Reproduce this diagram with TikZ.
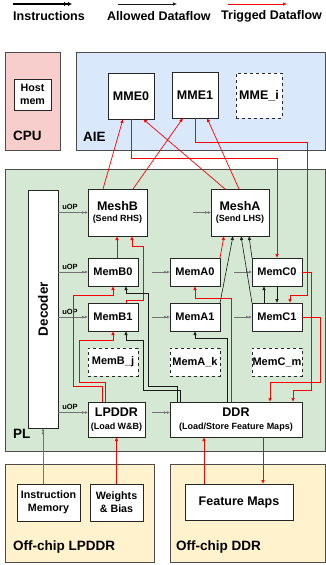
\documentclass[tikz,border=0pt]{standalone}
\usepackage{fontspec}
\setmainfont{Liberation Sans}
\usetikzlibrary{arrows.meta}

\definecolor{cpuFill}{HTML}{F8CECC}
\definecolor{aieFill}{HTML}{DAE8FC}
\definecolor{plFill}{HTML}{D5E8D4}
\definecolor{offFill}{HTML}{FFF2CC}

\newcommand{\regfnt}{\fontsize{13.5}{15}\selectfont\bfseries}
\newcommand{\unitfnt}{\fontsize{12.5}{13.5}\selectfont\bfseries}
\newcommand{\memfnt}{\fontsize{11}{13}\selectfont\bfseries}
\newcommand{\boxfnt}{\fontsize{10.7}{13}\selectfont\bfseries}
\newcommand{\subtfnt}{\fontsize{9}{11}\selectfont\bfseries}
\newcommand{\uopfnt}{\fontsize{7.5}{9}\selectfont\bfseries}

\begin{document}
\begin{tikzpicture}[x=1pt,y=-1pt,
    region/.style={draw=black!70,line width=0.8pt,inner sep=0pt,outer sep=0pt,anchor=north west},
    regtext/.style={font=\regfnt,inner sep=0pt,anchor=west},
    unit/.style={draw=black!85,fill=white,line width=0.8pt,inner sep=0pt,outer sep=0pt,
      anchor=north west,align=center,font=\unitfnt},
    mem/.style={unit,minimum width=50,minimum height=28,font=\memfnt},
    ghost/.style={mem,dashed},
    uop/.style={draw=black!55,line width=0.6pt,
      -{Latex[open,length=3pt,width=3pt]Latex[open,length=3pt,width=3pt]}},
    allow/.style={draw=black!90,line width=0.6pt,-{Latex[length=4pt,width=3.5pt]}},
    trig/.style={draw=red,line width=0.7pt,-{Latex[length=4pt,width=3.5pt]}},
  ]
  \useasboundingbox (0,0) rectangle (326,565);

  % legend
  \coordinate (insA) at (13,4);  \coordinate (insB) at (72,4);
  \coordinate (allA) at (118,4); \coordinate (allB) at (177,4);
  \coordinate (trgA) at (228,4); \coordinate (trgB) at (287,4);
  \draw[line width=1.3pt,-{Latex[length=4pt,width=4.5pt]Latex[length=4pt,width=4.5pt]}] (insA) -- (insB);
  \draw[allow] (allA) -- (allB);
  \draw[trig] (trgA) -- (trgB);
  \node[font=\unitfnt,inner sep=0pt,anchor=west] (insT) at (13,16) {Instructions};
  \node[font=\unitfnt,inner sep=0pt,anchor=west] (allT) at (107,16) {Allowed Dataflow};
  \node[font=\unitfnt,inner sep=0pt,anchor=west] (trgT) at (221,16) {Trigged Dataflow};

  % regions
  \node[region,fill=cpuFill,minimum width=55,minimum height=98] (cpu) at (5,52) {};
  \node[region,fill=aieFill,minimum width=249,minimum height=98] (aie) at (76,52) {};
  \node[region,fill=plFill,minimum width=320,minimum height=282] (pl) at (5,169) {};
  \node[region,fill=offFill,minimum width=149,minimum height=98] (offlp) at (5,464) {};
  \node[region,fill=offFill,minimum width=155,minimum height=98] (offddr) at (170,464) {};
  \node[regtext] at ([shift={(8,-14)}]cpu.south west) {CPU};
  \node[regtext] at ([shift={(7,-13)}]aie.south west) {AIE};
  \node[regtext] at ([shift={(8,-17)}]pl.south west) {PL};
  \node[regtext] at ([shift={(8,-15)}]offlp.south west) {Off-chip LPDDR};
  \node[regtext] at ([shift={(6,-15)}]offddr.south west) {Off-chip DDR};

  % CPU and AIE units
  \node[unit,minimum width=37,minimum height=31,font=\boxfnt] (hostmem) at (14,79) {Host\\mem};
  \node[unit,minimum width=46,minimum height=46] (mme0) at (108,73) {MME0};
  \node[unit,minimum width=46,minimum height=46] (mme1) at (172,72) {MME1};
  \node[unit,dashed,minimum width=46,minimum height=45] (mmei) at (236,73) {MME\_i};

  % PL units
  \node[unit,minimum width=30,minimum height=238] (decoder) at (28,190) {};
  \node[rotate=90,font=\regfnt] (dectext) at (decoder.center) {Decoder};
  \node[unit,minimum width=59,minimum height=47] (meshB) at (88,189) {MeshB\\[-2pt]{\subtfnt (Send RHS)}};
  \node[unit,minimum width=58,minimum height=47] (meshA) at (211,189) {MeshA\\[-2pt]{\subtfnt (Send LHS)}};
  \foreach \c/\x in {B/88,A/170,C/252}{
    \node[mem] (mem\c0) at (\x,258) {Mem\c0};
    \node[mem] (mem\c1) at (\x,303) {Mem\c1};
  }
  \foreach \c/\x/\s in {B/88/j,A/170/k,C/252/m}
    \node[ghost] (mem\c\s) at (\x,348) {Mem\c\_\s};
  \node[unit,minimum width=57,minimum height=35] (lpddr) at (88,402) {LPDDR\\{\subtfnt (Load W\&B)}};
  \node[unit,minimum width=132,minimum height=35] (ddr) at (170,402) {DDR\\{\subtfnt (Load/Store Feature Maps)}};

  % off-chip units
  \node[unit,minimum width=63,minimum height=37,font=\boxfnt] (instmem) at (17,484) {Instruction\\Memory};
  \node[unit,minimum width=53,minimum height=37,font=\boxfnt] (wb) at (90,484) {Weights\\\& Bias};
  \node[unit,minimum width=108,minimum height=36] (fmaps) at (185,484) {Feature Maps};

  % uOP instructions
  \coordinate (lpIn) at ([yshift=7pt]lpddr.west);
  \coordinate (ddrIn) at ([yshift=7pt]ddr.west);
  \foreach \n in {meshB,memB0,memB1}
    \draw[uop] (decoder.east |- \n.west) -- node[above,pos=0.4,font=\uopfnt,inner sep=2.5pt] {uOP} (\n.west);
  \draw[uop] (decoder.east |- lpIn) -- node[above,pos=0.4,font=\uopfnt,inner sep=2.5pt] {uOP} (lpIn);
  \foreach \n in {meshA,memA0,memA1,memC0,memC1}
    \draw[uop] ([xshift=-18pt]\n.west) -- (\n.west);
  \draw[uop] ([xshift=-18pt]ddrIn) -- (ddrIn);
  \draw[uop] (decoder.south |- instmem.north) -- (decoder.south);

  % mesh to MME
  \draw[trig] ([xshift=15pt]meshB.north west) -- ([xshift=15pt]mme0.south west);
  \draw[trig] ([xshift=45pt]meshB.north west) -- ([xshift=11pt]mme1.south west);
  \draw[trig] ([xshift=14pt]meshA.north west) -- ([xshift=35pt]mme0.south west);
  \draw[trig] ([xshift=28pt]meshA.north west) -- ([xshift=35pt]mme1.south west);

  % MME to MemC
  \draw[trig] (mme0.south) -- ++(0,39) -| (memC0.north);
  \draw[trig] (mme1.south) -- ++(0,24) -| (307,295) -| ([xshift=38pt]memC1.north west);

  % MemB side
  \draw[trig] ([xshift=29pt]memB0.north west) -- ([xshift=29pt]meshB.south west);
  \draw[trig] ([xshift=38pt]memB1.north west) |- (143,300) |- (132,246) -- ([xshift=44pt]meshB.south west);
  \draw[trig] ([xshift=14pt]lpddr.north west) |- (73,386) |- (113,295) -- ([xshift=25pt]memB0.south west);
  \draw[trig] ([xshift=17pt]lpddr.north west) |- (79,382) |- (113,340) -- ([xshift=25pt]memB1.south west);
  \draw[allow] ([xshift=7pt]ddr.north west) |- (148,386) |- (126,293) -- ([xshift=38pt]memB0.south west);
  \draw[allow] ([xshift=10pt]ddr.north west) |- (143,390) |- (126,340) -- ([xshift=38pt]memB1.south west);

  % MemA side
  \draw[trig] ([xshift=61pt]ddr.north west) |- ([yshift=-12pt]memA0.south) -- (memA0.south);
  \draw[allow] ([xshift=57pt]ddr.north west) |- ([yshift=-7pt]memA1.south) -- (memA1.south);
  \draw[trig] (memA0.north east) -- ([xshift=13pt]meshA.south west);
  \draw[allow] (memA1.north east) -- ([xshift=22pt]meshA.south west);

  % MemC side
  \draw[allow] (memC1.north west) -- ([xshift=30pt]meshA.south west);
  \draw[allow] (memC0.north west) -- ([xshift=38pt]meshA.south west);
  \draw[allow] ([xshift=12pt]memC1.north west) -- ([xshift=12pt]memC0.south west);
  \draw[allow] (memC0.south) -- (memC1.north);
  \draw[trig] (memC0.east) -| (311,390) -| ([xshift=123pt]ddr.north west);
  \draw[trig] (memC1.east) -| (320,382) -| ([xshift=100pt]ddr.north west);

  % off-chip links
  \draw[trig] (wb.north) -- (lpddr.south);
  \draw[trig] ([xshift=19pt]fmaps.north west) -- ([xshift=34pt]ddr.south west);
  \draw[trig] ([xshift=93pt]ddr.south west) -- ([xshift=78pt]fmaps.north west);
\end{tikzpicture}
\end{document}
